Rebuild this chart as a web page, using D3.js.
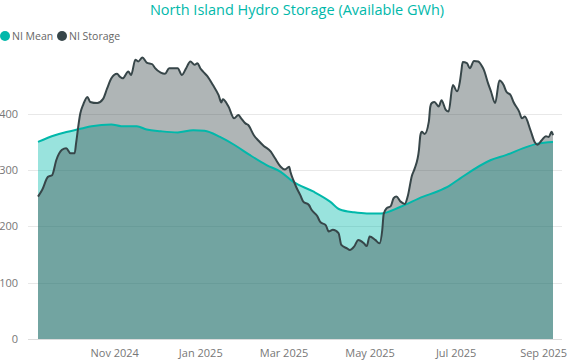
<!DOCTYPE html>
<html>
<head>
<meta charset="utf-8">
<script src="https://cdn.jsdelivr.net/npm/d3@7"></script>
<style>
  body { margin: 0; background: #fff; }
  svg { display: block; font-family: "Segoe UI", "Open Sans", sans-serif; }
</style>
</head>
<body>
<div id="chart"></div>
<script>
// NI Storage (GWh)
const storageDates = [
  "2024-09-08","2024-09-11","2024-09-15","2024-09-18","2024-09-21","2024-09-25","2024-09-28",
  "2024-10-01","2024-10-04","2024-10-05","2024-10-08","2024-10-10","2024-10-13","2024-10-15",
  "2024-10-20","2024-10-24","2024-10-27","2024-10-30","2024-11-03","2024-11-05","2024-11-07",
  "2024-11-11","2024-11-13","2024-11-16","2024-11-18","2024-11-21","2024-11-24","2024-11-28",
  "2024-11-30","2024-12-04","2024-12-07","2024-12-10","2024-12-14","2024-12-16","2024-12-19",
  "2024-12-22","2024-12-25","2024-12-28","2024-12-30","2025-01-01","2025-01-03","2025-01-06",
  "2025-01-10","2025-01-14","2025-01-16","2025-01-17","2025-01-21","2025-01-25","2025-01-28",
  "2025-01-30","2025-02-02","2025-02-04","2025-02-08","2025-02-11","2025-02-15","2025-02-20",
  "2025-02-23","2025-02-27","2025-03-02","2025-03-05","2025-03-06","2025-03-08","2025-03-10",
  "2025-03-13","2025-03-15","2025-03-19","2025-03-21","2025-03-25","2025-03-27","2025-03-31",
  "2025-04-02","2025-04-05","2025-04-09","2025-04-11","2025-04-15","2025-04-17","2025-04-20",
  "2025-04-23","2025-04-27","2025-04-29","2025-05-01","2025-05-05","2025-05-08","2025-05-10",
  "2025-05-11","2025-05-13","2025-05-16","2025-05-18","2025-05-20","2025-05-23","2025-05-26",
  "2025-05-28","2025-05-31","2025-06-02","2025-06-05","2025-06-06","2025-06-07","2025-06-09",
  "2025-06-12","2025-06-13","2025-06-14","2025-06-16","2025-06-19","2025-06-21","2025-06-24",
  "2025-06-26","2025-06-29","2025-07-02","2025-07-04","2025-07-05","2025-07-06","2025-07-09",
  "2025-07-11","2025-07-14","2025-07-17","2025-07-20","2025-07-21","2025-07-24","2025-07-26",
  "2025-07-29","2025-08-01","2025-08-04","2025-08-06","2025-08-09","2025-08-11","2025-08-15",
  "2025-08-17","2025-08-19","2025-08-23","2025-08-26","2025-08-28","2025-08-31","2025-09-03",
  "2025-09-05","2025-09-07","2025-09-08"
];
const storageValues = [
  253, 265, 288, 291, 318, 336, 339,
  330, 330, 348, 401, 416, 430, 421,
  419, 426, 445, 463, 471, 466, 463,
  475, 469, 496, 493, 500, 491, 488,
  481, 473, 471, 481, 481, 481, 469,
  481, 493, 487, 490, 481, 475, 467,
  451, 433, 420, 426, 413, 392, 398,
  392, 383, 380, 362, 353, 343, 333,
  321, 306, 301, 306, 296, 282, 270,
  255, 244, 238, 229, 218, 208, 202,
  191, 194, 188, 167, 161, 158, 164,
  176, 170, 165, 182, 176, 170, 194,
  222, 232, 236, 250, 253, 244, 240,
  253, 290, 303, 336, 362, 368, 364,
  386, 412, 419, 421, 413, 424, 407,
  404, 451, 440, 457, 475, 492, 490,
  481, 494, 493, 483, 478, 454, 440,
  419, 459, 451, 439, 433, 421, 404,
  392, 395, 371, 350, 345, 353, 360,
  359, 368, 362
];

// NI Mean (smooth seasonal mean)
const meanDates = [
  "2024-09-08","2024-09-20","2024-09-29","2024-10-09","2024-10-16","2024-10-30","2024-11-06",
  "2024-11-17","2024-11-24","2024-12-04","2024-12-16","2024-12-27","2025-01-04","2025-01-15",
  "2025-01-25","2025-02-05","2025-02-17","2025-02-27","2025-03-08","2025-03-22","2025-04-03",
  "2025-04-10","2025-04-20","2025-04-29","2025-05-09","2025-05-23","2025-06-08","2025-06-18",
  "2025-06-27","2025-07-04","2025-07-26","2025-08-06","2025-08-18","2025-08-28","2025-09-08"
];
const meanValues = [
  350, 362, 368, 374, 378, 381, 378,
  378, 372, 369, 367, 371, 370, 359,
  345, 327, 309, 297, 279, 262, 244,
  230, 225, 223, 223, 235, 253, 262,
  273, 285, 318, 327, 339, 347, 350
];

const seriesNames = ["NI Mean", "NI Storage"];
const xTickDates = ["2024-11-01", "2025-01-01", "2025-03-01", "2025-05-01", "2025-07-01", "2025-09-01"];
const yTicks = [0, 100, 200, 300, 400];
const xDomain = ["2024-09-08", "2025-09-08"];

const W = 567, H = 360;
const parse = d3.timeParse("%Y-%m-%d");
const teal = "#01B8AA", dark = "#374649";

const svg = d3.select("#chart").append("svg")
  .attr("width", W)
  .attr("height", H);

const x = d3.scaleTime()
  .domain(xDomain.map(parse))
  .range([38, 553]);

const y = d3.scaleLinear()
  .domain([0, 500])
  .range([339, 57.5]);

// title
svg.append("text")
  .attr("x", 297)
  .attr("y", 15)
  .attr("text-anchor", "middle")
  .attr("fill", teal)
  .style("font-size", "14.5px")
  .text("North Island Hydro Storage (Available GWh)");

// legend
const legend = svg.append("g").attr("transform", "translate(0,36)");
const legendX = [5, 62];
seriesNames.forEach((name, i) => {
  const g = legend.append("g").attr("transform", "translate(" + legendX[i] + ",0)");
  g.append("circle").attr("r", 5).attr("fill", i === 0 ? teal : dark);
  g.append("text")
    .attr("x", 7)
    .attr("dy", "0.35em")
    .attr("fill", "#666")
    .style("font-size", "10.5px")
    .text(name);
});

// gridlines + y labels
const yAxis = svg.append("g");
yAxis.selectAll("line")
  .data(yTicks)
  .join("line")
  .attr("x1", 28)
  .attr("x2", 562)
  .attr("y1", d => Math.round(y(d)) + 0.5)
  .attr("y2", d => Math.round(y(d)) + 0.5)
  .attr("stroke", d => d === 0 ? "#dcdcdc" : "#e8e8e8")
  .attr("stroke-width", 1);

yAxis.selectAll("text")
  .data(yTicks)
  .join("text")
  .attr("x", 18)
  .attr("y", d => y(d))
  .attr("dy", "0.35em")
  .attr("text-anchor", "end")
  .attr("fill", "#777")
  .style("font-size", "11px")
  .text(d => d);

// x axis
const xAxis = svg.append("g")
  .attr("transform", "translate(0,343)")
  .call(d3.axisBottom(x)
    .tickValues(xTickDates.map(parse))
    .tickFormat(d3.timeFormat("%b %Y"))
    .tickSize(0)
    .tickPadding(6));
xAxis.select(".domain").remove();
xAxis.selectAll("text")
  .attr("fill", "#777")
  .style("font-size", "11px")
  .style("font-family", "\"Segoe UI\", \"Open Sans\", sans-serif");

const mean = meanDates.map((d, i) => ({ date: parse(d), value: meanValues[i] }));
const storage = storageDates.map((d, i) => ({ date: parse(d), value: storageValues[i] }));

const area = d3.area()
  .x(d => x(d.date))
  .y0(y(0))
  .y1(d => y(d.value))
  .curve(d3.curveMonotoneX);

const line = d3.line()
  .x(d => x(d.date))
  .y(d => y(d.value))
  .curve(d3.curveMonotoneX);

// areas (storage over mean)
svg.append("path")
  .datum(mean)
  .attr("d", area)
  .attr("fill", teal)
  .attr("fill-opacity", 0.4);

svg.append("path")
  .datum(storage)
  .attr("d", area)
  .attr("fill", dark)
  .attr("fill-opacity", 0.4);

// lines
svg.append("path")
  .datum(mean)
  .attr("d", line)
  .attr("fill", "none")
  .attr("stroke", teal)
  .attr("stroke-width", 2);

svg.append("path")
  .datum(storage)
  .attr("d", line)
  .attr("fill", "none")
  .attr("stroke", dark)
  .attr("stroke-width", 2)
  .attr("stroke-linejoin", "round");
</script>
</body>
</html>
